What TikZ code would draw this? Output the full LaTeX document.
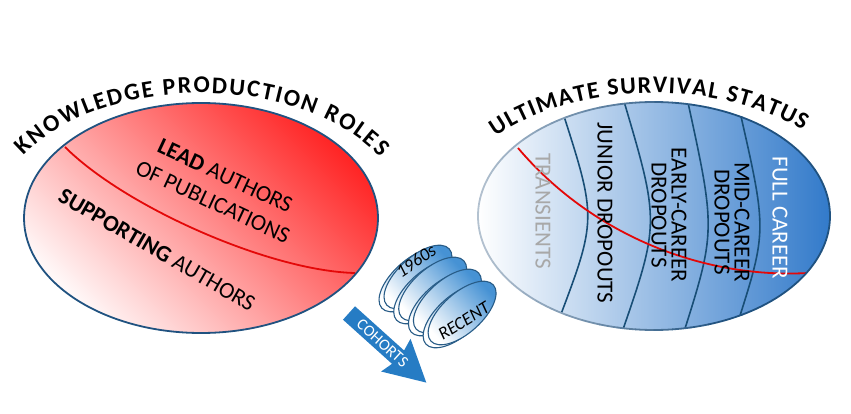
\documentclass[tikz,border=0pt]{standalone}
\usepackage{fontspec}
\setmainfont{Carlito}
\usetikzlibrary{positioning, calc, decorations.text}
\usepackage{xcolor}

\definecolor{roleRed}{RGB}{255,38,38}
\definecolor{rimBlue}{RGB}{32,82,128}
\definecolor{rimGhost}{RGB}{180,194,208}
\definecolor{bandBlue}{RGB}{24,78,118}
\definecolor{careerBlue}{RGB}{50,122,202}
\definecolor{discBlue}{RGB}{70,146,212}
\definecolor{discEdge}{RGB}{40,92,135}
\definecolor{arrowBlue}{RGB}{38,124,196}
\definecolor{splitRed}{RGB}{228,8,8}
\definecolor{transGray}{RGB}{168,168,168}

\newcommand{\txtsize}[2]{\fontsize{#1}{#2}\selectfont}

\begin{document}
\begin{tikzpicture}[
    x=1pt, y=1pt,
    rim/.style={line width=1.8pt, draw=rimBlue},
    split/.style={line width=1.8pt, draw=splitRed},
    band/.style={line width=1.6pt, draw=bandBlue},
    roletxt/.style={font=\txtsize{23}{29}, align=center, inner sep=0pt},
    statustxt/.style={font=\txtsize{23}{20}, align=center, inner sep=0pt, rotate=-90},
    disctxt/.style={font=\txtsize{18}{18}\itshape, inner sep=0pt},
    disc/.style={draw=discEdge, line width=1.1pt, left color=white, right color=discBlue, shading angle=132}
]
    \useasboundingbox (0,0) rectangle (851,413);

    \coordinate (lt) at (201,195);
    \coordinate (rt) at (654,197);

    % Knowledge production roles
    \shade[left color=red!3, right color=roleRed, shading angle=135] (lt) ellipse[x radius=177pt, y radius=115pt];
    \draw[split] (65,266) .. controls (125,206) and (270,142) .. (355,140);
    \draw[rim] (lt) ellipse[x radius=177pt, y radius=115pt];

    \node[roletxt, rotate=-25] (lead) at (219,224) {\textbf{LEAD} AUTHORS\\OF PUBLICATIONS};
    \node[roletxt, rotate=-30] (support) at (157,163) {\textbf{SUPPORTING} AUTHORS};

    \path[decorate, decoration={text along path, text align={fit to path},
        text={|\fontsize{24}{24}\selectfont\bfseries|KNOWLEDGE PRODUCTION ROLES}}]
        ($(lt)+(150:205pt and 125pt)$) arc[start angle=150, end angle=29, x radius=205pt, y radius=125pt];

    % Ultimate survival status
    \shade[left color=white, middle color=careerBlue!40, right color=careerBlue] (rt) ellipse[x radius=176pt, y radius=114pt];
    \begin{scope}
        \clip (rt) ellipse[x radius=176pt, y radius=114pt];
        \draw[band] (562,303) .. controls (597,194) .. (558,91);
        \draw[band] (623,315) .. controls (660,190) .. (620,75);
        \draw[band] (687,315) .. controls (716,182) .. (682,75);
        \draw[band] (740,301) .. controls (767,182) .. (737,88);
        \draw[split] (518,265) .. controls (590,180) and (700,134) .. (808,140);
    \end{scope}
    \foreach \a [evaluate=\a as \m using {max(0,min(100,75+75*cos(\a)))}] in {0,6,...,354}
        \draw[line width=1.8pt, line cap=round, draw=rimBlue!\m!rimGhost]
            ($(rt)+(\a:176pt and 114pt)$) arc[start angle=\a, delta angle=6, x radius=176pt, y radius=114pt];

    \node[statustxt, text=transGray] (trans) at (543,202) {TRANSIENTS};
    \node[statustxt] (junior) at (605,200) {JUNIOR DROPOUTS};
    \node[statustxt] (early) at (669,198) {EARLY-CAREER\\DROPOUTS};
    \node[statustxt] (mid) at (732,191) {MID-CAREER\\DROPOUTS};
    \node[statustxt, text=white] (full) at (780,195) {FULL CAREER};

    \path[decorate, decoration={text along path, text align={fit to path},
        text={|\fontsize{24}{24}\selectfont\bfseries|ULTIMATE SURVIVAL STATUS}}]
        ($(rt)+(140:207pt and 123pt)$) arc[start angle=140, end angle=44, x radius=207pt, y radius=123pt];

    % Cohort discs, oldest at the back
    \foreach \i in {0,...,3} {
        \shade[disc, shift={(413+14.7*\i,133-12*\i)}, rotate=42] (0,0) ellipse[x radius=42pt, y radius=20pt];
        \shade[disc, shift={(418+14.7*\i,136-12*\i)}, rotate=42] (0,0) ellipse[x radius=42pt, y radius=20pt];
    }
    \node[disctxt, rotate=34] (old) at (416,152) {1960s};
    \node[disctxt, rotate=32] (recent) at (464,92) {RECENT};

    % Cohorts arrow
    \begin{scope}[shift={(349,100)}, rotate=-42]
        \fill[arrowBlue] (0,9) -- (66,9) -- (63,22) -- (104,0) -- (63,-22) -- (66,-9) -- (0,-9) -- cycle;
        \node[text=white, font=\txtsize{16}{16}, inner sep=0pt, rotate=-42] (cohorts) at (45,0) {COHORTS};
    \end{scope}
\end{tikzpicture}
\end{document}
